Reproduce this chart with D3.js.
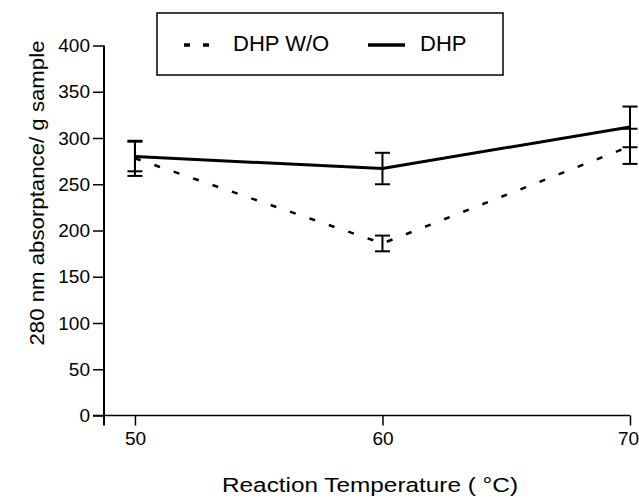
<!DOCTYPE html>
<html><head><meta charset="utf-8">
<script src="https://cdn.jsdelivr.net/npm/d3@7"></script>
<style>body{margin:0;background:#fff}svg{display:block}text{font-family:"Liberation Sans",Arial,sans-serif;fill:#000}</style>
</head><body><div id="chart"></div>
<script>
const temps = [50, 60, 70];
const dhpWo = [278, 186, 291];
const dhpWoErr = [19, 8.5, 19];
const dhp = [280, 267, 312];
const dhpErr = [16, 17, 22];
const xTicks = [50, 60, 70];
const yTicks = [0, 50, 100, 150, 200, 250, 300, 350, 400];
const seriesNames = ["DHP W/O", "DHP"];

const W = 639, H = 498;
const svg = d3.select("#chart").append("svg").attr("width", W).attr("height", H);

const x = d3.scaleLinear().domain([48.75, 70]).range([104, 630]);
const y = d3.scaleLinear().domain([0, 400]).range([415.5, 45.5]);

// Y axis
const yAxis = d3.axisLeft(y).tickValues(yTicks).tickSize(11).tickPadding(3).tickSizeOuter(0);
const gy = svg.append("g").attr("transform", "translate(104,0)").call(yAxis);
gy.select(".domain").remove();
gy.selectAll(".tick line").attr("stroke", "#000").attr("stroke-width", 1.5);
gy.selectAll(".tick text").style("font-size", "19px").style("font-family", "Liberation Sans, Arial, sans-serif").attr("fill", "#000");
svg.append("line").attr("x1", 104).attr("x2", 104).attr("y1", y(400)).attr("y2", y(0) + 10)
  .attr("stroke", "#000").attr("stroke-width", 2);

// X axis
const xAxis = d3.axisBottom(x).tickValues(xTicks).tickSize(10).tickPadding(6).tickSizeOuter(0);
const gx = svg.append("g").attr("transform", `translate(0,${y(0)})`).call(xAxis);
gx.select(".domain").remove();
gx.selectAll(".tick line").attr("stroke", "#000").attr("stroke-width", 1.5);
gx.selectAll(".tick text").style("font-size", "19px").style("font-family", "Liberation Sans, Arial, sans-serif").attr("fill", "#000")
  .attr("dx", (d, i, n) => i === n.length - 1 ? -2 : 0);
svg.append("line").attr("x1", 93).attr("x2", x(70)).attr("y1", y(0)).attr("y2", y(0))
  .attr("stroke", "#000").attr("stroke-width", 1.5);

// Axis titles
svg.append("text").attr("x", 370).attr("y", 492).attr("text-anchor", "middle")
  .style("font-size", "20px").attr("textLength", 296).attr("lengthAdjust", "spacingAndGlyphs")
  .text("Reaction Temperature ( \u00B0C)");
svg.append("text").attr("transform", "translate(44,193) rotate(-90)").attr("text-anchor", "middle")
  .style("font-size", "20px").attr("textLength", 305).attr("lengthAdjust", "spacingAndGlyphs")
  .text("280 nm absorptance/ g sample");

// Lines
const line = d3.line().x(d => x(d[0])).y(d => y(d[1]));
svg.append("path").datum(temps.map((t, i) => [t, dhpWo[i]])).attr("d", line)
  .attr("fill", "none").attr("stroke", "#000").attr("stroke-width", 2.5).attr("stroke-dasharray", "6,14.5");
svg.append("path").datum(temps.map((t, i) => [t, dhp[i]])).attr("d", line)
  .attr("fill", "none").attr("stroke", "#000").attr("stroke-width", 3);

// Error bars
function errBars(vals, errs) {
  const g = svg.append("g").attr("stroke", "#000").attr("stroke-width", 2);
  temps.forEach((t, i) => {
    const cx = x(t), lo = y(vals[i] - errs[i]), hi = y(vals[i] + errs[i]);
    g.append("line").attr("x1", cx).attr("x2", cx).attr("y1", lo).attr("y2", hi);
    g.append("line").attr("x1", cx - 7.5).attr("x2", cx + 7.5).attr("y1", lo).attr("y2", lo);
    g.append("line").attr("x1", cx - 7.5).attr("x2", cx + 7.5).attr("y1", hi).attr("y2", hi);
  });
}
errBars(dhpWo, dhpWoErr);
errBars(dhp, dhpErr);

// Legend
const lg = svg.append("g");
lg.append("rect").attr("x", 157).attr("y", 13).attr("width", 346).attr("height", 62)
  .attr("fill", "#fff").attr("stroke", "#000").attr("stroke-width", 1.5);
lg.append("line").attr("x1", 184).attr("x2", 210).attr("y1", 45).attr("y2", 45)
  .attr("stroke", "#000").attr("stroke-width", 3.5).attr("stroke-dasharray", "6,13");
lg.append("text").attr("x", 233).attr("y", 51).style("font-size", "22px").text(seriesNames[0]);
lg.append("line").attr("x1", 368).attr("x2", 405).attr("y1", 45).attr("y2", 45)
  .attr("stroke", "#000").attr("stroke-width", 3.5);
lg.append("text").attr("x", 420).attr("y", 51).style("font-size", "22px").text(seriesNames[1]);
</script></body></html>
